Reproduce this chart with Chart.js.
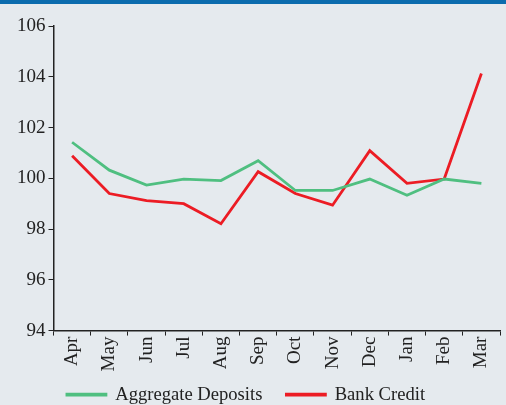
<!DOCTYPE html>
<html>
<head>
<meta charset="utf-8">
<script src="https://cdn.jsdelivr.net/npm/chart.js@4"></script>
<style>
    html, body { margin: 0; padding: 0; background: #e5eaee; }
    .topbar { height: 4px; background: #0b6cae; }
    .wrap { width: 506px; height: 401px; }
</style>
</head>
<body>
<div class="topbar"></div>
<div class="wrap"><canvas id="myChart"></canvas></div>
<script>
const months = ['Apr', 'May', 'Jun', 'Jul', 'Aug', 'Sep', 'Oct', 'Nov', 'Dec', 'Jan', 'Feb', 'Mar'];
const aggregateDeposits = [101.42, 100.32, 99.73, 99.97, 99.91, 100.69, 99.52, 99.52, 99.97, 99.33, 99.97, 99.8];
const bankCredit = [100.89, 99.4, 99.12, 99.0, 98.21, 100.26, 99.4, 98.94, 101.09, 99.8, 99.97, 104.13];
const yTicks = [94, 96, 98, 100, 102, 104, 106];

Chart.defaults.font.family = '"Liberation Serif", "DejaVu Serif", serif';
Chart.defaults.font.size = 19;
Chart.defaults.color = '#222';

// nudge the legend a bit left/up so it sits where the original one does
const legendShift = {
    id: 'legendShift',
    afterUpdate(chart) {
        if (chart.legend) {
            chart.legend.left -= 22;
            chart.legend.top -= 11;
        }
    }
};

const ctx = document.getElementById('myChart');
const myChart = new Chart(ctx, { // eslint-disable-line
    type: 'line',
    data: {
        labels: months,
        datasets: [{
            label: 'Aggregate Deposits',
            data: aggregateDeposits,
            borderColor: '#4fbf80',
            backgroundColor: '#4fbf80',
            borderWidth: 2.8,
            pointRadius: 0,
            tension: 0
        }, {
            label: 'Bank Credit',
            data: bankCredit,
            borderColor: '#ec1c24',
            backgroundColor: '#ec1c24',
            borderWidth: 2.8,
            pointRadius: 0,
            tension: 0
        }]
    },
    options: {
        responsive: true,
        maintainAspectRatio: false,
        animation: false,
        layout: {
            padding: { left: 14, right: 6, top: 22, bottom: -20 }
        },
        plugins: {
            tooltip: { enabled: false },
            legend: {
                position: 'bottom',
                labels: {
                    boxWidth: 39,
                    boxHeight: 1,
                    padding: 24,
                    font: { size: 18.6 }
                }
            }
        },
        scales: {
            x: {
                offset: true,
                grid: {
                    display: true,
                    drawOnChartArea: false,
                    drawTicks: true,
                    tickLength: 5,
                    offset: true,
                    color: '#222'
                },
                border: { color: '#222', width: 1.5 },
                ticks: {
                    minRotation: 90,
                    maxRotation: 90,
                    padding: 1
                }
            },
            y: {
                min: 94,
                max: 106,
                afterBuildTicks: (axis) => {
                    axis.ticks = yTicks.map((v) => ({ value: v }));
                },
                grid: {
                    display: true,
                    drawOnChartArea: false,
                    drawTicks: true,
                    tickLength: 5,
                    color: '#222'
                },
                border: { color: '#222', width: 1.5 },
                ticks: {
                    padding: 3
                }
            }
        }
    },
    plugins: [legendShift]
});
</script>
</body>
</html>
